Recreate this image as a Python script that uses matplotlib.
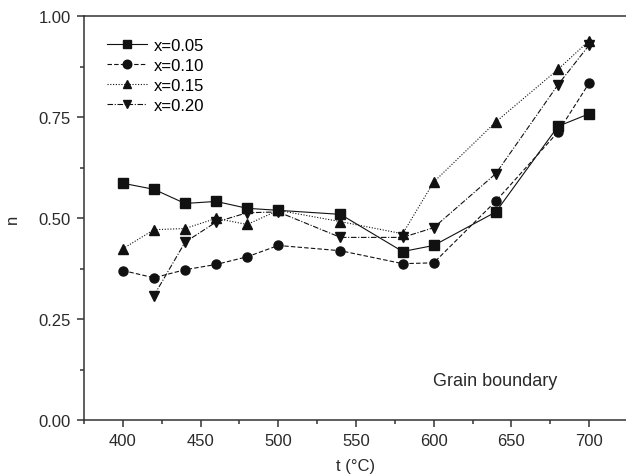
import matplotlib
matplotlib.use("Agg")
import matplotlib.pyplot as plt
from matplotlib.ticker import MultipleLocator, FormatStrFormatter

plt.rcParams['font.family'] = ['Liberation Sans', 'DejaVu Sans']

t_05 = [400, 420, 440, 460, 480, 500, 540, 580, 600, 640, 680, 700]
n_05 = [0.586, 0.571, 0.536, 0.541, 0.524, 0.519, 0.509, 0.417, 0.432, 0.515, 0.727, 0.758]

t_10 = [400, 420, 440, 460, 480, 500, 540, 580, 600, 640, 680, 700]
n_10 = [0.370, 0.352, 0.372, 0.385, 0.404, 0.432, 0.419, 0.387, 0.389, 0.542, 0.713, 0.834]

t_15 = [400, 420, 440, 460, 480, 500, 540, 580, 600, 640, 680, 700]
n_15 = [0.424, 0.471, 0.474, 0.499, 0.484, 0.519, 0.491, 0.461, 0.589, 0.738, 0.868, 0.939]

t_20 = [420, 440, 460, 480, 500, 540, 580, 600, 640, 680, 700]
n_20 = [0.308, 0.440, 0.490, 0.513, 0.515, 0.452, 0.452, 0.476, 0.610, 0.830, 0.928]

labels = ['x=0.05', 'x=0.10', 'x=0.15', 'x=0.20']

TXT = '#2a2a2a'
fig = plt.figure(figsize=(6.26, 4.77), dpi=100)
ax = fig.add_axes([84/626, 56/477, 544/626, 404/477])

kw = dict(color='#111111', lw=0.8, markersize=6.5)
ax.plot(t_05, n_05, linestyle='-', marker='s', label=labels[0], **kw)
ax.plot(t_10, n_10, linestyle=(0, (4, 2)), marker='o', label=labels[1], **kw)
ax.plot(t_15, n_15, linestyle=(0, (1, 1.5)), marker='^', label=labels[2], **kw)
ax.plot(t_20, n_20, linestyle=(0, (5, 1.5, 1, 1.5)), marker='v', label=labels[3], **kw)

ax.set_xlim(375, 725)
ax.set_ylim(0, 1.0)
ax.xaxis.set_major_locator(MultipleLocator(50))
ax.xaxis.set_minor_locator(MultipleLocator(25))
ax.yaxis.set_major_locator(MultipleLocator(0.25))
ax.yaxis.set_minor_locator(MultipleLocator(0.125))
ax.yaxis.set_major_formatter(FormatStrFormatter('%.2f'))
ax.tick_params(which='major', direction='out', length=5, width=1.1, labelsize=12,
               colors='#333333', labelcolor=TXT, pad=4.5)
ax.tick_params(which='minor', direction='out', length=3, width=1.1, colors='#333333')
for s in ax.spines.values():
    s.set_linewidth(1.1)
    s.set_color('#333333')
ax.spines['right'].set_visible(False)

ax.set_xlabel('t (°C)', fontsize=12, color=TXT, labelpad=7)
ax.set_ylabel('n', fontsize=12, color=TXT, labelpad=13)

ax.legend(loc='upper left', frameon=False, fontsize=12, handlelength=2.4,
          handletextpad=0.4, borderpad=0, borderaxespad=0, labelspacing=0.3,
          bbox_to_anchor=(0.042, 0.945), markerscale=0.95)
ax.text(639.5, 0.097, 'Grain boundary', fontsize=13, ha='center', va='center', color=TXT)

fig.savefig('out.png', dpi=100)
